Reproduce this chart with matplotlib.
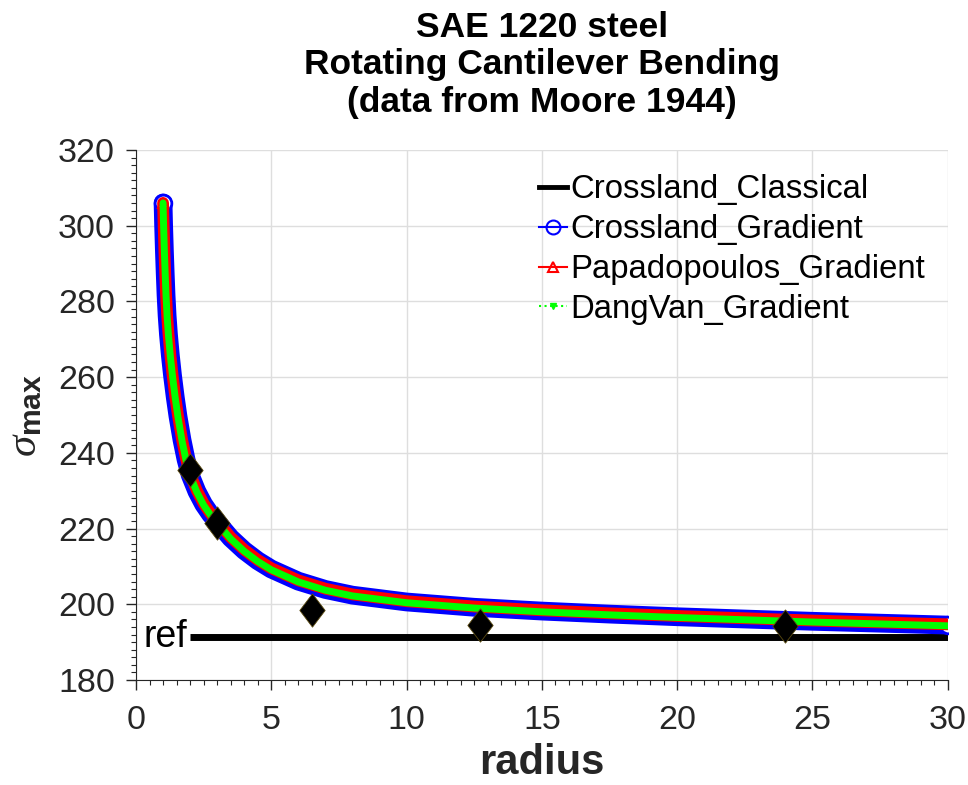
import matplotlib
matplotlib.use('Agg')
import matplotlib.pyplot as plt
from matplotlib.lines import Line2D
from matplotlib.ticker import MultipleLocator

# values
radius = [1.0, 1.02, 1.05, 1.08, 1.11, 1.15, 1.2, 1.27, 1.35, 1.45, 1.55, 1.7, 1.85,
          2.0, 2.25, 2.5, 2.75, 3.0, 3.5, 4.0, 4.5, 5.0, 6.0, 7.0, 8.0, 10.0, 12.5,
          15.0, 17.5, 20.0, 25.0, 30.0]
dangvan_gradient = [306.0, 300.0, 293.0, 287.0, 281.5, 276.0, 271.0, 265.5, 260.2,
                    254.5, 249.5, 243.2, 238.0, 234.0, 229.6, 226.2, 223.6, 221.5,
                    217.3, 214.0, 211.3, 209.1, 205.9, 203.7, 202.2, 200.4, 199.0,
                    198.0, 197.2, 196.5, 195.3, 194.3]
crossland_gradient = [306.0, 300.2, 293.2, 287.2, 281.7, 276.2, 271.2, 265.7, 260.4,
                      254.7, 249.7, 243.4, 238.2, 234.2, 229.8, 226.4, 223.8, 221.7,
                      217.5, 214.2, 211.5, 209.3, 206.1, 203.9, 202.4, 200.6, 199.2,
                      198.2, 197.4, 196.7, 195.5, 194.5]
papadopoulos_gradient = [306.0, 300.4, 293.4, 287.4, 281.9, 276.4, 271.4, 265.9, 260.6,
                         254.9, 249.9, 243.6, 238.4, 234.4, 230.0, 226.6, 224.0, 221.9,
                         217.7, 214.4, 211.7, 209.5, 206.3, 204.1, 202.6, 200.8, 199.4,
                         198.4, 197.6, 196.9, 195.7, 194.7]
classical_radius = [2.0, 30.0]
crossland_classical = [191.4, 191.4]
exp_radius = [2.0, 3.0, 6.5, 12.7, 24.0]
exp_sigma = [235.5, 221.5, 198.5, 194.5, 194.3]

plt.rcParams['font.family'] = ['Liberation Sans', 'DejaVu Sans']
plt.rcParams['mathtext.fontset'] = 'custom'
plt.rcParams['mathtext.rm'] = 'Liberation Sans'
plt.rcParams['mathtext.it'] = 'Liberation Serif:italic'
plt.rcParams['mathtext.bf'] = 'Liberation Sans:bold'

fig = plt.figure(figsize=(9.68, 7.85), dpi=100)
ax = fig.add_axes([0.1405, 0.1338, 0.8385, 0.6752])

gray = '#262626'

# thick bands, like the dense MATLAB markers
ax.plot(radius, crossland_gradient, color='blue', lw=13.5, solid_capstyle='round',
        marker='o', markevery=[0, -1], ms=12, mfc='white', mec='blue', mew=2, zorder=3)
ax.plot(radius, papadopoulos_gradient, color='red', lw=8.5, solid_capstyle='round',
        marker='^', markevery=[0], ms=7, mfc='white', mec='red', mew=1.5, zorder=4)
ax.plot(radius, dangvan_gradient, color='#00ff00', lw=5, solid_capstyle='round', zorder=5)
ax.plot(classical_radius, crossland_classical, color='black', lw=5, solid_capstyle='butt', zorder=2)
ax.text(classical_radius[0] - 0.1, crossland_classical[0], 'ref', ha='right', va='center',
        fontsize=27, color='black')

diamond = [(0, 1), (0.76, 0), (0, -1), (-0.76, 0), (0, 1)]
ax.plot(exp_radius, exp_sigma, linestyle='none', marker=diamond, ms=24,
        color='black', mec='#5a4a10', mew=0.6, zorder=6)

ax.set_xlim(0, 30)
ax.set_ylim(180, 320)
ax.xaxis.set_major_locator(MultipleLocator(5))
ax.xaxis.set_minor_locator(MultipleLocator(0.5))
ax.yaxis.set_major_locator(MultipleLocator(20))
ax.yaxis.set_minor_locator(MultipleLocator(2))
ax.tick_params(which='major', direction='out', length=7, width=1, colors=gray,
               labelsize=24.5)
ax.tick_params(axis='x', which='major', pad=11)
ax.tick_params(axis='y', which='major', pad=8)
ax.tick_params(which='minor', direction='out', length=3.5, width=0.8, colors=gray)
ax.spines['top'].set_visible(False)
ax.spines['right'].set_visible(False)
ax.spines['left'].set_color(gray)
ax.spines['bottom'].set_color(gray)
ax.grid(True, which='major', color='#dedede', lw=1)
ax.set_axisbelow(True)

ax.set_xlabel('radius', fontsize=30, fontweight='bold', color=gray, labelpad=5)
ax.set_ylabel(r'$\sigma_{\mathbf{max}}$', fontsize=31, color=gray, labelpad=9)
ax.set_title('SAE 1220 steel\nRotating Cantilever Bending\n(data from Moore 1944)',
             fontsize=25.5, fontweight='bold', linespacing=1.19, pad=27)

handles = [
    Line2D([], [], color='black', lw=3.5),
    Line2D([], [], color='blue', lw=1.5, marker='o', ms=10, mfc='none', mew=1.5),
    Line2D([], [], color='red', lw=1.5, marker='^', ms=7, mfc='none', mew=1.5),
    Line2D([], [], color='#00ff00', lw=1.5, ls=':', marker='v', ms=5),
]
labels = ['Crossland_Classical', 'Crossland_Gradient', 'Papadopoulos_Gradient', 'DangVan_Gradient']
ax.legend(handles, labels, loc='upper left', bbox_to_anchor=(0.497, 0.954), frameon=False,
          fontsize=23.7, handlelength=0.85, handletextpad=0.1, borderpad=0,
          borderaxespad=0, labelspacing=0.27)

fig.savefig('out.png', dpi=100)
